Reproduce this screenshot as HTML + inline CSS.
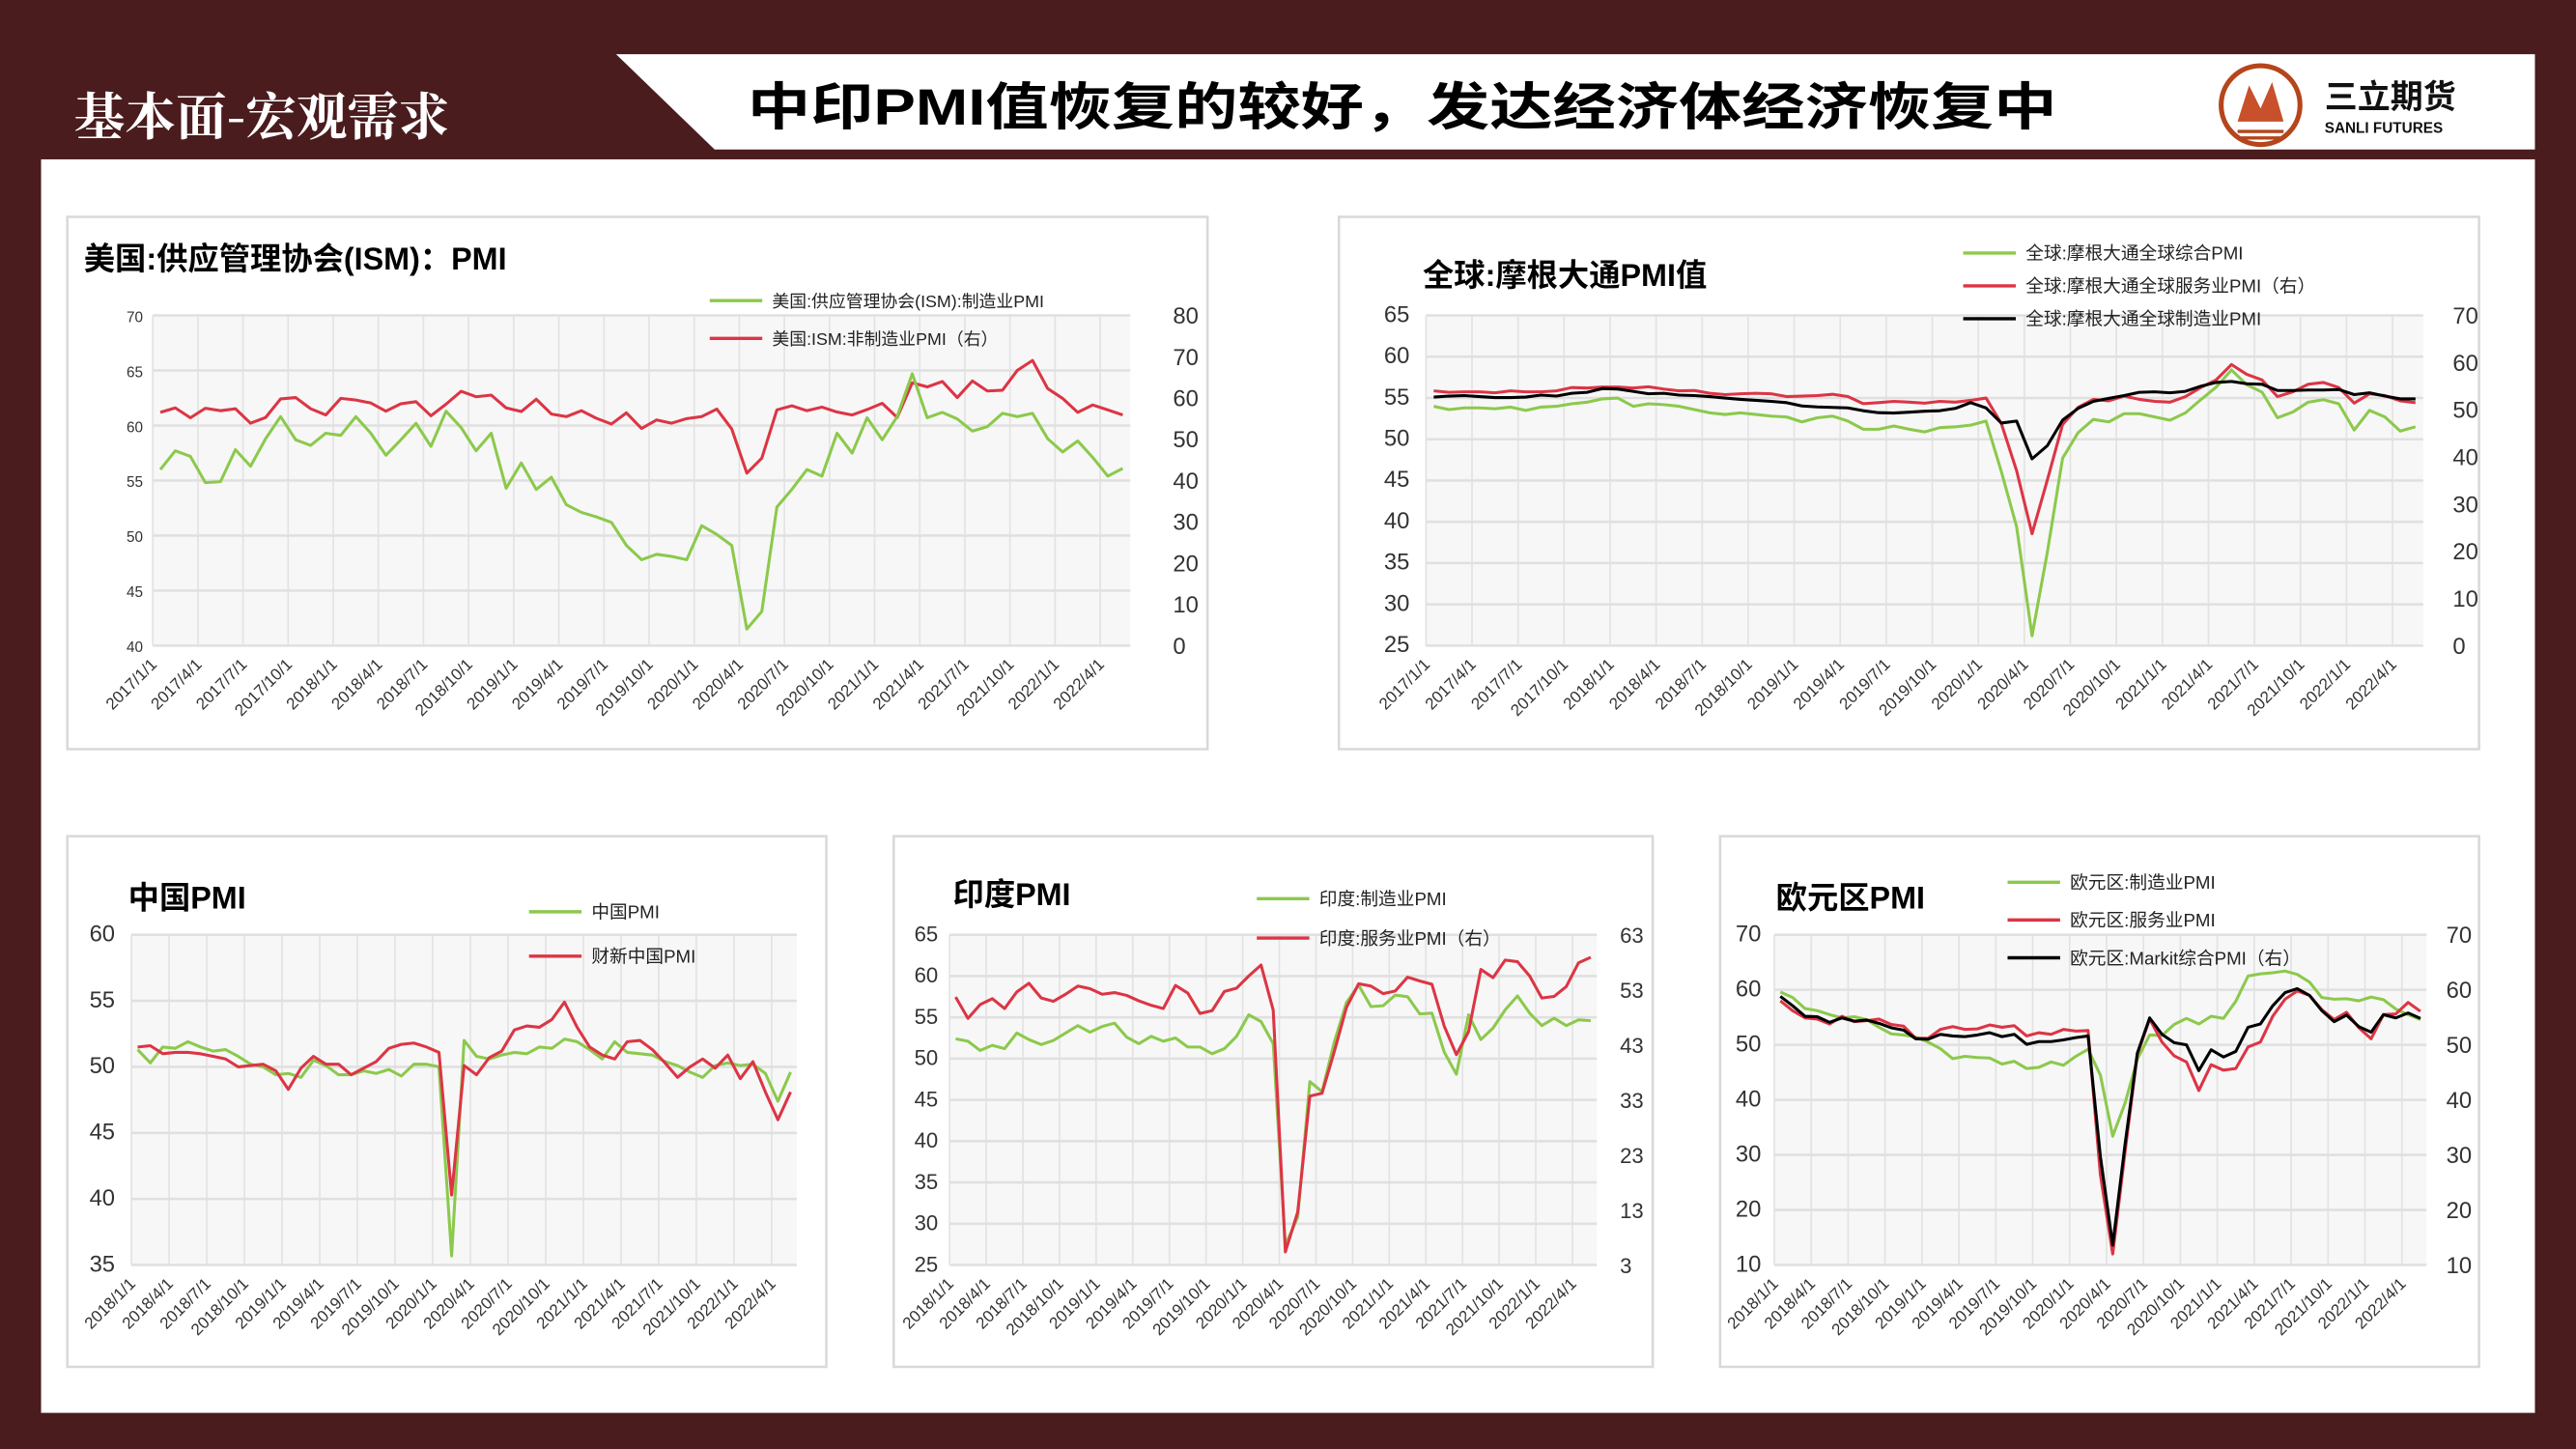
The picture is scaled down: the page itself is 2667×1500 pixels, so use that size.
<!DOCTYPE html>
<html><head><meta charset="utf-8">
<style>
html,body{margin:0;padding:0;background:#4a1c1e;}
svg{display:block;}
text{font-family:"Liberation Sans","Noto Sans CJK SC",sans-serif;}
</style></head>
<body>
<svg id="s" width="2667" height="1500" viewBox="0 0 1568 882" preserveAspectRatio="none" xmlns="http://www.w3.org/2000/svg">
<rect x="0" y="0" width="1568" height="882" fill="#4a1c1e"/>
<rect x="25" y="97" width="1518" height="763" fill="#ffffff"/>
<polygon points="375,33 1543,33 1543,91 435,91" fill="#ffffff"/>
<text x="45" y="82" font-size="31" font-weight="bold" fill="#ffffff" style="font-family:'Noto Serif CJK SC','Noto Sans CJK SC',sans-serif">基本面-宏观需求</text>
<text x="455" y="76" font-size="31" font-weight="bold" fill="#000" textLength="797" lengthAdjust="spacingAndGlyphs">中印PMI值恢复的较好，发达经济体经济恢复中</text>
<circle cx="1376" cy="64" r="24" fill="none" stroke="#b5451b" stroke-width="3"/>
<polygon points="1362,74 1369,52 1376,66 1383,50 1390,74" fill="#c8502a"/>
<line x1="1362" y1="80" x2="1390" y2="80" stroke="#b5451b" stroke-width="2"/>
<line x1="1364" y1="84" x2="1388" y2="84" stroke="#b5451b" stroke-width="2"/>
<text x="1415" y="66" font-size="20" font-weight="bold" fill="#111">三立期货</text>
<text x="1415" y="81" font-size="9" font-weight="bold" fill="#111">SANLI FUTURES</text>
<g id="charts"></g>
</svg>
<script>
const NS="http://www.w3.org/2000/svg";
const G=document.getElementById('charts');
function el(t,a,txt){const e=document.createElementNS(NS,t);for(const k in a)e.setAttribute(k,a[k]);if(txt!==undefined)e.textContent=txt;G.appendChild(e);return e;}
const GR="#8cc94c",RD="#dc3545",BK="#000";
function chart(o){
 const [bx,by,bx2,by2]=o.box;el('rect',{x:bx,y:by,width:bx2-bx,height:by2-by,fill:'#fff',stroke:'#d9d9d9','stroke-width':1.5});
 const [x0,y0,x1,y1]=o.plot;el('rect',{x:x0,y:y0,width:x1-x0,height:y1-y0,fill:'#f7f7f7'});
 const n=o.n,w=(x1-x0)/n;
 for(let i=0;i<n;i+=3){const x=x0+i*w;el('line',{x1:x,y1:y0,x2:x,y2:y1,stroke:'#e3e3e3','stroke-width':1});
   const lab=o.labels[i/3];if(lab){el('text',{x:x+3,y:y1+12,'font-size':o.xfs||9,'text-anchor':'end',fill:'#333',transform:`rotate(-45 ${x+3} ${y1+12})`},lab);}}
 const L=o.L;const ly=v=>y1-(v-L[0])/(L[1]-L[0])*(y1-y0);
 for(let v=L[0];v<=L[1]+1e-9;v+=L[2]){const y=ly(v);el('line',{x1:x0,y1:y,x2:x1,y2:y,stroke:'#e0e0e0','stroke-width':1.5});
   el('text',{x:x0-(o.lpad||6),y:y+4,'font-size':o.lfs||13,'text-anchor':'end',fill:'#333'},v);}
 let ry=null;if(o.R){const R=o.R;ry=v=>y1-(v-R[0])/(R[1]-R[0])*(y1-y0);
   for(let v=R[0];v<=R[1]+1e-9;v+=R[2]){el('text',{x:x1+(o.rpad||10),y:ry(v)+5,'font-size':o.rfs||13,'text-anchor':'start',fill:'#333'},v);}}
 for(const s of o.series){const f=s.right?ry:ly;const pts=s.d.map((v,i)=>(x0+(i+0.5)*w).toFixed(1)+','+f(v).toFixed(1)).join(' ');
   el('polyline',{points:pts,fill:'none',stroke:s.c,'stroke-width':s.sw||1.8,'stroke-linejoin':'round'});}
 el('text',{x:o.title[1],y:o.title[2],'font-size':o.title[3],'font-weight':'bold',fill:'#000'},o.title[0]);
 for(const g of o.legend){el('line',{x1:g[0],y1:g[1],x2:g[0]+32,y2:g[1],stroke:g[3],'stroke-width':2});
   el('text',{x:g[0]+38,y:g[1]+4,'font-size':g[4]||11,fill:'#222'},g[2]);}
}
function lab(y0,y1){const a=[];for(let y=y0;y<=y1;y++)for(const m of [1,4,7,10]){if(y==2022&&m>4)continue;a.push(`${y}/${m}/1`);}return a;}
// US
chart({box:[41,132,735,456],plot:[93,192,688,393],n:65,labels:lab(2017,2022),L:[40,70,5],lfs:9,lpad:6,R:[0,80,10],rfs:14,rpad:26,xfs:10,
 series:[
 {c:RD,right:1,d:[56.5,57.6,55.2,57.5,56.9,57.4,53.9,55.3,59.8,60.1,57.4,55.9,59.9,59.5,58.8,56.8,58.6,59.1,55.7,58.5,61.6,60.3,60.7,57.6,56.7,59.7,56.1,55.5,56.9,55.1,53.7,56.4,52.6,54.7,53.9,55.0,55.5,57.3,52.5,41.8,45.4,57.1,58.1,56.9,57.8,56.6,55.9,57.2,58.7,55.3,63.7,62.7,64.0,60.1,64.1,61.7,61.9,66.7,69.1,62.3,59.9,56.5,58.3,57.1,55.9]},
 {c:GR,d:[56.0,57.7,57.2,54.8,54.9,57.8,56.3,58.8,60.8,58.7,58.2,59.3,59.1,60.8,59.3,57.3,58.7,60.2,58.1,61.3,59.8,57.7,59.3,54.3,56.6,54.2,55.3,52.8,52.1,51.7,51.2,49.1,47.8,48.3,48.1,47.8,50.9,50.1,49.1,41.5,43.1,52.6,54.2,56.0,55.4,59.3,57.5,60.7,58.7,60.8,64.7,60.7,61.2,60.6,59.5,59.9,61.1,60.8,61.1,58.8,57.6,58.6,57.1,55.4,56.1]}],
 title:['美国:供应管理协会(ISM)：PMI',51,164,19],
 legend:[[432,183,'美国:供应管理协会(ISM):制造业PMI',GR,10.5],[432,206,'美国:ISM:非制造业PMI（右）',RD,10.5]]});
// Global
const gc=[54.0,53.6,53.8,53.8,53.7,53.9,53.5,53.9,54.0,54.3,54.5,54.9,55.0,54.0,54.3,54.2,54.0,53.6,53.2,53.0,53.2,53.0,52.8,52.7,52.1,52.6,52.8,52.2,51.2,51.2,51.6,51.2,50.9,51.4,51.5,51.7,52.2,46.1,39.4,26.2,36.3,47.7,50.8,52.4,52.1,53.1,53.1,52.7,52.3,53.2,54.8,56.3,58.4,56.6,55.7,52.6,53.3,54.5,54.8,54.3,51.1,53.5,52.7,51.0,51.5];
const gm=[52.7,52.9,53.0,52.8,52.6,52.6,52.7,53.1,52.9,53.5,53.7,54.5,54.4,53.9,53.4,53.5,53.1,53.0,52.8,52.5,52.2,52.0,51.8,51.5,50.8,50.6,50.5,50.4,49.8,49.4,49.3,49.5,49.7,49.8,50.3,51.5,50.4,47.2,47.6,39.6,42.4,47.8,50.3,51.8,52.4,53.0,53.7,53.8,53.6,53.9,55.0,55.8,56.0,55.5,55.4,54.1,54.1,54.2,54.2,54.3,53.2,53.6,52.9,52.3,52.3];
const gs=[54.0,53.7,53.8,53.8,53.6,54.0,53.8,53.8,54.0,54.7,54.6,54.8,54.8,54.6,54.9,54.4,54.0,54.1,53.5,53.2,53.4,53.5,53.4,52.8,52.9,53.0,53.3,52.8,51.3,51.5,51.8,51.6,51.4,51.8,51.6,52.0,52.5,47.1,37.1,23.7,35.1,46.9,50.5,52.2,51.9,52.9,52.2,51.8,51.6,52.8,54.7,56.3,59.6,57.5,56.3,52.8,53.8,55.4,55.8,54.7,51.4,53.4,53.0,51.9,51.5];
chart({box:[815,132,1509,456],plot:[868,192,1475,393],n:65,labels:lab(2017,2022),L:[25,65,5],lfs:14,lpad:10,R:[0,70,10],rfs:14,rpad:18,xfs:10,
 series:[{c:GR,d:gc},{c:RD,right:1,d:gs},{c:BK,right:1,d:gm}],
 title:['全球:摩根大通PMI值',866,174,19],
 legend:[[1195,154,'全球:摩根大通全球综合PMI',GR,11],[1195,174,'全球:摩根大通全球服务业PMI（右）',RD,11],[1195,194,'全球:摩根大通全球制造业PMI',BK,11]]});
// China
chart({box:[41,509,503,832],plot:[80,569,485,770],n:53,labels:lab(2018,2022),L:[35,60,5],lfs:14,lpad:10,xfs:10,
 series:[{c:GR,d:[51.3,50.3,51.5,51.4,51.9,51.5,51.2,51.3,50.8,50.2,50.0,49.4,49.5,49.2,50.5,50.1,49.4,49.4,49.7,49.5,49.8,49.3,50.2,50.2,50.0,35.7,52.0,50.8,50.6,50.9,51.1,51.0,51.5,51.4,52.1,51.9,51.3,50.6,51.9,51.1,51.0,50.9,50.4,50.1,49.6,49.2,50.1,50.3,50.1,50.2,49.5,47.4,49.6]},
 {c:RD,d:[51.5,51.6,51.0,51.1,51.1,51.0,50.8,50.6,50.0,50.1,50.2,49.7,48.3,49.9,50.8,50.2,50.2,49.4,49.9,50.4,51.4,51.7,51.8,51.5,51.1,40.3,50.1,49.4,50.7,51.2,52.8,53.1,53.0,53.6,54.9,53.0,51.5,50.9,50.6,51.9,52.0,51.3,50.3,49.2,50.0,50.6,49.9,50.9,49.1,50.4,48.1,46.0,48.1]}],
 title:['中国PMI',78,553,19],
 legend:[[322,555,'中国PMI',GR,11],[322,582,'财新中国PMI',RD,11]]});
// India
chart({box:[544,509,1006,832],plot:[578,569,972,770],n:53,labels:lab(2018,2022),L:[25,65,5],lfs:13,lpad:7,R:[3,63,10],rfs:13,rpad:14,xfs:10,
 series:[{c:GR,d:[52.4,52.1,51.0,51.6,51.2,53.1,52.3,51.7,52.2,53.1,54.0,53.2,53.9,54.3,52.6,51.8,52.7,52.1,52.5,51.4,51.4,50.6,51.2,52.7,55.3,54.5,51.8,27.4,30.8,47.2,46.0,52.0,56.8,58.9,56.3,56.4,57.7,57.5,55.4,55.5,50.8,48.1,55.3,52.3,53.7,55.9,57.6,55.5,54.0,54.9,54.0,54.7,54.6]},
 {c:RD,right:1,d:[51.7,47.8,50.3,51.4,49.6,52.6,54.2,51.5,50.9,52.2,53.7,53.2,52.2,52.5,52.0,51.0,50.2,49.6,53.8,52.4,48.7,49.2,52.7,53.3,55.5,57.5,49.3,5.4,12.6,33.7,34.2,41.8,49.8,54.1,53.7,52.3,52.8,55.3,54.6,54.0,46.4,41.2,45.4,56.7,55.2,58.4,58.1,55.5,51.5,51.8,53.6,57.9,58.9]}],
 title:['印度PMI',580,551,19],
 legend:[[765,547,'印度:制造业PMI',GR,11],[765,571,'印度:服务业PMI（右）',RD,11]]});
// Euro
chart({box:[1047,509,1509,832],plot:[1080,569,1477,770],n:53,labels:lab(2018,2022),L:[10,70,10],lfs:14,lpad:8,R:[10,70,10],rfs:14,rpad:12,xfs:10,
 series:[{c:GR,d:[59.6,58.6,56.6,56.2,55.5,54.9,55.1,54.6,53.2,52.0,51.8,51.4,50.5,49.3,47.5,47.9,47.7,47.6,46.5,47.0,45.7,45.9,46.9,46.3,47.9,49.2,44.5,33.4,39.4,47.4,51.8,51.7,53.7,54.8,53.8,55.2,54.8,57.9,62.5,62.9,63.1,63.4,62.8,61.4,58.6,58.3,58.4,58.0,58.7,58.2,56.5,55.5,54.6]},
 {c:RD,d:[58.0,56.2,54.9,54.7,53.8,55.2,54.2,54.4,54.7,53.7,53.4,51.2,51.2,52.8,53.3,52.8,52.9,53.6,53.2,53.5,51.6,52.2,51.9,52.8,52.5,52.6,26.4,12.0,30.5,48.3,54.7,50.5,48.0,46.9,41.7,46.4,45.4,45.7,49.6,50.5,55.2,58.3,59.8,59.0,56.4,54.6,55.9,53.1,51.1,55.5,55.6,57.7,56.1]},
 {c:BK,right:1,d:[58.8,57.1,55.2,55.1,54.1,54.9,54.3,54.5,53.9,53.1,52.7,51.1,51.0,51.9,51.6,51.5,51.8,52.2,51.5,51.9,50.1,50.6,50.6,50.9,51.3,51.6,29.7,13.6,31.9,48.5,54.9,51.9,50.4,50.0,45.3,49.1,47.8,48.8,53.2,53.8,57.1,59.5,60.2,59.0,56.2,54.2,55.4,53.3,52.3,55.5,54.9,55.8,54.8]}],
 title:['欧元区PMI',1081,553,19],
 legend:[[1222,537,'欧元区:制造业PMI',GR,11],[1222,560,'欧元区:服务业PMI',RD,11],[1222,583,'欧元区:Markit综合PMI（右）',BK,11]]});
</script>
</body></html>
